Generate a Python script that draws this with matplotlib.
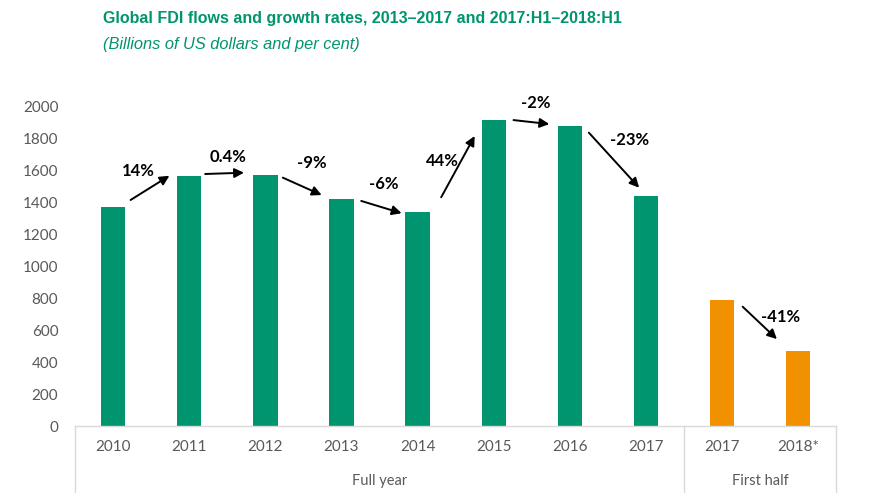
import matplotlib.pyplot as plt
import matplotlib.transforms as mtransforms

# data (billions of US dollars)
full_years = ["2010", "2011", "2012", "2013", "2014", "2015", "2016", "2017"]
full_values = [1375, 1565, 1575, 1425, 1340, 1920, 1880, 1445]
half_years = ["2017", "2018*"]
half_values = [790, 470]

growth_labels = ["14%", "0.4%", "-9%", "-6%", "44%", "-2%", "-23%", "-41%"]
# arrow start, arrow end, label position (x in category units, y in data units)
arrow_from = [(0.23, 1417), (1.21, 1580), (2.23, 1557), (3.26, 1411),
              (4.31, 1434), (5.26, 1918), (6.25, 1839), (8.27, 748)]
arrow_to = [(0.74, 1569), (1.72, 1588), (2.74, 1448), (3.79, 1334),
            (4.75, 1818), (5.73, 1893), (6.91, 1494), (8.72, 545)]
label_pos = [(0.33, 1599), (1.51, 1688), (2.61, 1651), (3.55, 1515),
             (4.33, 1661), (5.55, 2027), (6.79, 1793), (8.77, 685)]

green = "#00956F"
orange = "#F29100"
grey_txt = "#595959"
grey_line = "#D9D9D9"
tick_font = "Lato"

fig = plt.figure(figsize=(8.72, 5.0), dpi=100)
ax = fig.add_axes([75 / 872, 1 - 426 / 500, (836.3 - 75) / 872, 319 / 500])

n_full = len(full_years)
x_full = list(range(n_full))
x_half = [n_full + i for i in range(len(half_years))]
ax.bar(x_full, full_values, width=0.32, color=green)
ax.bar(x_half, half_values, width=0.32, color=orange)

ax.set_xlim(-0.5, n_full + len(half_years) - 0.5)
ax.set_ylim(0, 2000)
ax.set_yticks(range(0, 2001, 200))
ax.set_xticks(x_full + x_half)
ax.set_xticklabels(full_years + half_years)
for lab in ax.get_xticklabels() + ax.get_yticklabels():
    lab.set_fontfamily(tick_font)
    lab.set_fontsize(11)
    lab.set_color(grey_txt)
ax.tick_params(axis="y", length=0, pad=12)
ax.tick_params(axis="x", length=0, pad=10)

for s in ["top", "right", "left"]:
    ax.spines[s].set_visible(False)
ax.spines["bottom"].set_color(grey_line)
ax.spines["bottom"].set_linewidth(1)

# group separators under the axis
trans = mtransforms.blended_transform_factory(ax.transData, ax.transAxes)
for xs in [-0.5, n_full - 0.5, n_full + len(half_years) - 0.5]:
    ax.plot([xs, xs], [0, -0.207], color=grey_line, lw=1, transform=trans, clip_on=False)
ax.text((n_full - 1) / 2, -0.171, "Full year", transform=trans, ha="center", va="center",
        fontsize=10.5, color=grey_txt, family=tick_font)
ax.text(n_full + (len(half_years) - 1) / 2, -0.171, "First half", transform=trans,
        ha="center", va="center", fontsize=10.5, color=grey_txt, family=tick_font)

# growth arrows and labels
for lab, a, b, p in zip(growth_labels, arrow_from, arrow_to, label_pos):
    ax.annotate("", xy=b, xytext=a,
                arrowprops=dict(arrowstyle="-|>", color="black", lw=1.4,
                                mutation_scale=14, shrinkA=0, shrinkB=0),
                annotation_clip=False)
    ax.text(p[0], p[1], lab, ha="center", va="center", fontsize=12,
            fontweight="bold", family=tick_font, clip_on=False)

fig.text(103 / 872, 1 - 19 / 500,
         "Global FDI flows and growth rates, 2013\u20132017 and 2017:H1\u20132018:H1",
         fontsize=11.5, fontweight="bold", color=green, family="Liberation Sans",
         va="center", ha="left")
fig.text(103 / 872, 1 - 45 / 500, "(Billions of US dollars and per cent)",
         fontsize=11.8, fontstyle="italic", color=green, family="Liberation Sans",
         va="center", ha="left")

fig.savefig("out.png", dpi=100)
